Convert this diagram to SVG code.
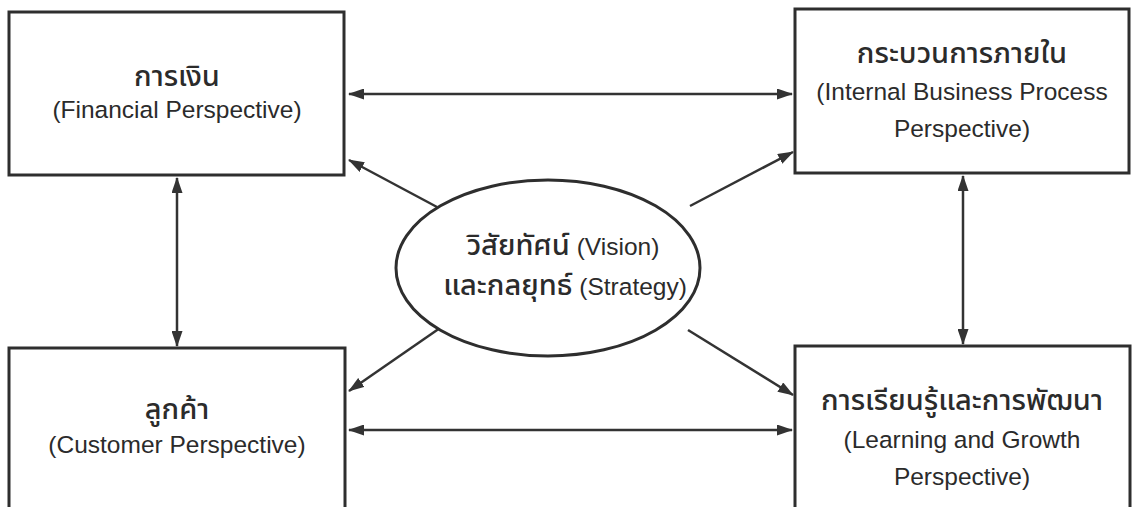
<svg xmlns="http://www.w3.org/2000/svg" width="1137" height="507" viewBox="0 0 1137 507">
<style>
.box{fill:#fff;stroke:#2e2e2e;stroke-width:3}
.th{font-family:"Noto Sans Thai","Noto Sans","Liberation Sans",sans-serif;font-size:29px;font-weight:500;fill:#2b2b2b}
.en{font-family:"Liberation Sans",Arial,sans-serif;font-size:24.5px;font-weight:normal;fill:#2b2b2b}
.c{text-anchor:middle}
.ln{stroke:#333;stroke-width:2.5;fill:none;marker-start:url(#ah);marker-end:url(#ah)}
.ln1{stroke:#333;stroke-width:2.5;fill:none;marker-end:url(#ah)}
</style>
<defs>
<marker id="ah" viewBox="0 0 16 11" refX="15" refY="5.5" markerWidth="16" markerHeight="11" markerUnits="userSpaceOnUse" orient="auto-start-reverse">
<path d="M0,0 L16,5.5 L0,11 Z" fill="#333"/>
</marker>
</defs>
<rect width="1137" height="507" fill="#fff"/>
<g id="connectors">
<line class="ln" x1="349" y1="94" x2="792" y2="94"/>
<line class="ln" x1="349" y1="430" x2="792" y2="430"/>
<line class="ln" x1="177" y1="178" x2="177" y2="346"/>
<line class="ln" x1="963" y1="176" x2="963" y2="344"/>
<line class="ln1" x1="437" y1="207" x2="349" y2="160"/>
<line class="ln1" x1="690" y1="206" x2="793" y2="152"/>
<line class="ln1" x1="440" y1="328" x2="349" y2="391"/>
<line class="ln1" x1="688" y1="330" x2="793" y2="395"/>
</g>
<g id="financial">
<rect class="box" x="9" y="12" width="335" height="163"/>
<text class="th c" x="177" y="86">การเงิน</text>
<text class="en c" x="177" y="118">(Financial Perspective)</text>
</g>
<g id="internal">
<rect class="box" x="795" y="9" width="334" height="164"/>
<text class="th c" x="962" y="63">กระบวนการภายใน</text>
<text class="en c" x="962" y="100">(Internal Business Process</text>
<text class="en c" x="962" y="137">Perspective)</text>
</g>
<g id="customer">
<rect class="box" x="9" y="348" width="336" height="170"/>
<text class="th c" x="177" y="419">ลูกค้า</text>
<text class="en c" x="177" y="453">(Customer Perspective)</text>
</g>
<g id="learning">
<rect class="box" x="795" y="346" width="335" height="172"/>
<text class="th c" x="962" y="410">การเรียนรู้และการพัฒนา</text>
<text class="en c" x="962" y="448">(Learning and Growth</text>
<text class="en c" x="962" y="485">Perspective)</text>
</g>
<g id="vision">
<ellipse cx="548" cy="268" rx="152" ry="88" fill="#fff" stroke="#2e2e2e" stroke-width="3"/>
<text class="th c" x="563" y="255">วิสัยทัศน์<tspan class="en"> (Vision)</tspan></text>
<text class="th c" x="565" y="295">และกลยุทธ์<tspan class="en"> (Strategy)</tspan></text>
</g>
</svg>
